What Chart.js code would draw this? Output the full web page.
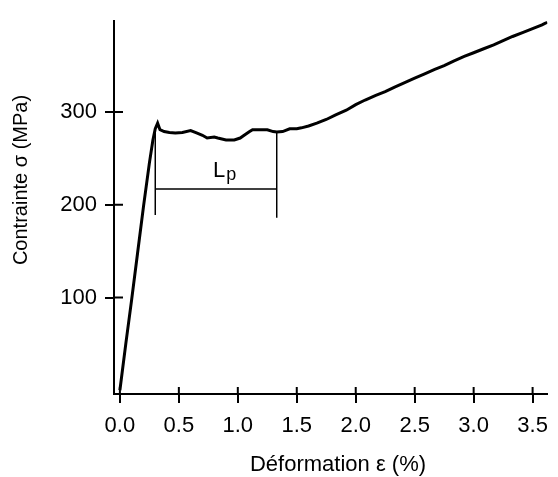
<!DOCTYPE html>
<html>
<head>
<meta charset="utf-8">
<script src="https://cdn.jsdelivr.net/npm/chart.js@4"></script>
<style>
  html, body { margin: 0; padding: 0; background: #fff; }
</style>
</head>
<body>
<canvas id="grafico" width="558" height="477"></canvas>
<script>
// Données
const deformation = [0, 0.05, 0.10, 0.15, 0.20, 0.25, 0.28, 0.30, 0.32, 0.34, 0.375, 0.42, 0.47, 0.53, 0.60, 0.65, 0.70, 0.74, 0.80, 0.83, 0.90, 0.97, 1.02, 1.06, 1.10, 1.125, 1.20, 1.25, 1.30, 1.33, 1.38, 1.44, 1.50, 1.54, 1.60, 1.67, 1.75, 1.83, 1.92, 2.00, 2.08, 2.17, 2.25, 2.33, 2.42, 2.50, 2.58, 2.67, 2.75, 2.83, 2.92, 3.00, 3.08, 3.17, 3.25, 3.33, 3.42, 3.50, 3.58, 3.625];
const contrainte = [0, 50, 98, 148, 198, 245, 270, 282, 288, 281, 279, 278, 277.5, 278, 280, 277.5, 275, 272, 273, 272, 270, 270, 272, 275.5, 279, 281, 281, 281, 279, 278.5, 279, 282, 282, 283, 285, 288, 292, 297, 302, 308, 313, 318, 322, 327, 332, 336.5, 341, 346, 350, 355, 360, 364, 368, 372.5, 377, 381.5, 386, 390, 394, 397];

const xTicks = [0, 0.5, 1.0, 1.5, 2.0, 2.5, 3.0, 3.5];
const yTicks = [100, 200, 300];

// Annotation Lp
const lpDebut = 0.30;
const lpFin = 1.33;
const lpNiveau = 217;
const lpHaut = [281, 278.5];
const lpBas = [189, 186];
const lpTexte = { x: 0.79, y: 230 };

const points = deformation.map((d, i) => ({ x: d, y: contrainte[i] }));

const police = '"Liberation Sans", Arial, sans-serif';

const extras = {
  id: 'extras',
  afterDraw(chart) {
    const ctx = chart.ctx;
    const sx = chart.scales.x;
    const sy = chart.scales.y;
    ctx.save();
    ctx.strokeStyle = '#000';
    ctx.fillStyle = '#000';
    ctx.lineWidth = 2;
    // petites graduations vers l'intérieur
    ctx.beginPath();
    xTicks.forEach(v => {
      const px = sx.getPixelForValue(v);
      ctx.moveTo(px, sx.top);
      ctx.lineTo(px, sx.top - 7);
    });
    yTicks.forEach(v => {
      const py = sy.getPixelForValue(v);
      ctx.moveTo(sy.right, py);
      ctx.lineTo(sy.right + 9, py);
    });
    ctx.stroke();

    // texte Lp
    const lx = sx.getPixelForValue(lpTexte.x);
    const ly = sy.getPixelForValue(lpTexte.y);
    ctx.textAlign = 'left';
    ctx.textBaseline = 'alphabetic';
    ctx.font = '22px ' + police;
    ctx.fillText('L', lx, ly);
    const w = ctx.measureText('L').width;
    ctx.font = '18px ' + police;
    ctx.fillText('p', lx + w + 1, ly + 3);

    // titres des axes
    ctx.font = '22px ' + police;
    ctx.textAlign = 'center';
    ctx.fillText('Déformation ε (%)', 338, 471);
    ctx.translate(27, 180);
    ctx.rotate(-Math.PI / 2);
    ctx.font = '20px ' + police;
    ctx.fillText('Contrainte σ (MPa)', 0, 0);
    ctx.restore();
  }
};

const ctx = document.getElementById('grafico').getContext('2d');
const myChart = new Chart(ctx, {
  type: 'line',
  data: {
    datasets: [
      {
        data: points,
        borderColor: '#000',
        borderWidth: 3,
        pointRadius: 0,
        tension: 0
      },
      {
        data: [{ x: lpDebut, y: lpHaut[0] }, { x: lpDebut, y: lpBas[0] }],
        borderColor: '#000',
        borderWidth: 1.5,
        pointRadius: 0
      },
      {
        data: [{ x: lpFin, y: lpHaut[1] }, { x: lpFin, y: lpBas[1] }],
        borderColor: '#000',
        borderWidth: 1.5,
        pointRadius: 0
      },
      {
        data: [{ x: lpDebut, y: lpNiveau }, { x: lpFin, y: lpNiveau }],
        borderColor: '#000',
        borderWidth: 1.5,
        pointRadius: 0
      }
    ]
  },
  options: {
    responsive: false,
    animation: false,
    devicePixelRatio: 1,
    layout: { padding: { top: 14, right: 3, left: 0, bottom: 0 } },
    plugins: {
      legend: { display: false },
      tooltip: { enabled: false }
    },
    scales: {
      x: {
        type: 'linear',
        min: -0.05,
        max: 3.625,
        border: { display: true, color: '#000', width: 2 },
        grid: { drawOnChartArea: false, tickLength: 9, color: '#000', lineWidth: 2 },
        ticks: {
          color: '#000',
          font: { family: police, size: 22 },
          padding: 10,
          maxRotation: 0,
          autoSkip: false,
          callback: v => v.toFixed(1)
        },
        afterBuildTicks: s => { s.ticks = xTicks.map(v => ({ value: v })); },
        afterFit: s => { s.height = 83; }
      },
      y: {
        type: 'linear',
        min: -4,
        max: 398,
        border: { display: true, color: '#000', width: 2 },
        grid: { drawOnChartArea: false, tickLength: 9, color: '#000', lineWidth: 2 },
        ticks: {
          color: '#000',
          font: { family: police, size: 22 },
          padding: 8,
          autoSkip: false
        },
        afterBuildTicks: s => { s.ticks = yTicks.map(v => ({ value: v })); },
        afterFit: s => { s.width = 114; }
      }
    }
  },
  plugins: [extras]
});
</script>
</body>
</html>
